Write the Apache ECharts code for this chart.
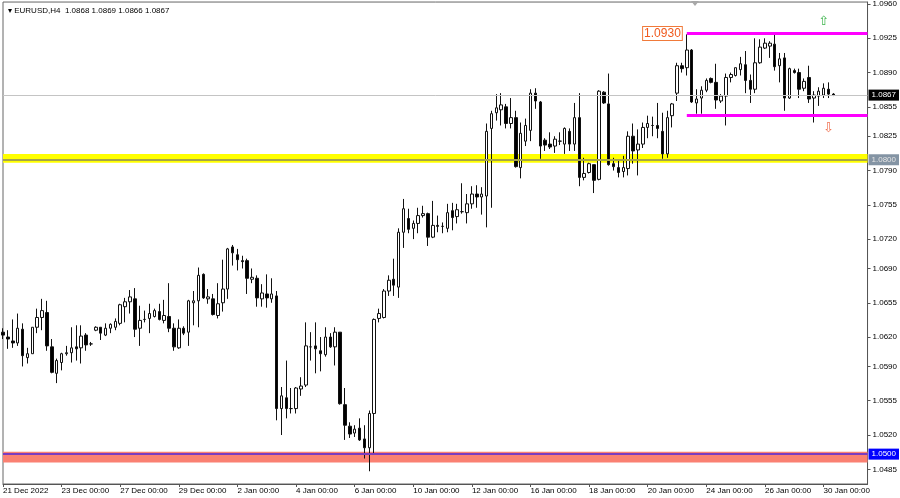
<!DOCTYPE html>
<html>
<head>
<meta charset="utf-8">
<script src="https://cdn.jsdelivr.net/npm/echarts@6/dist/echarts.min.js"></script>
<style>html,body{margin:0;padding:0;background:#fff}#c{width:900px;height:498px}</style>
</head>
<body>
<div id="c"></div>
<script>
// Trading days shown on the H4 chart (6 bars per day)
const tradingDays = ['21 Dec','22 Dec','23 Dec','26 Dec','27 Dec','28 Dec','29 Dec','30 Dec','2 Jan','3 Jan','4 Jan','5 Jan','6 Jan','9 Jan','10 Jan','11 Jan','12 Jan','13 Jan','16 Jan','17 Jan','18 Jan','19 Jan','20 Jan','23 Jan','24 Jan','25 Jan','26 Jan','27 Jan','30 Jan','31 Jan'];
const barHours = ['00:00','04:00','08:00','12:00','16:00','20:00'];
const slotCount = 178; // bars + empty right shift

const openP = [1.0625,1.0620,1.0616,1.0614,1.0628,1.0599,1.0603,1.0630,1.0640,1.0645,
1.0610,1.0583,1.0594,1.0603,1.0604,1.0610,1.0609,1.0622,1.0613,1.0627,
1.0630,1.0622,1.0629,1.0630,1.0634,1.0651,1.0656,1.0659,1.0629,1.0638,
1.0639,1.0641,1.0646,1.0637,1.0641,1.0629,1.0609,1.0629,1.0625,1.0655,
1.0657,1.0684,1.0659,1.0659,1.0642,1.0655,1.0669,1.0712,1.0704,1.0698,
1.0698,1.0679,1.0680,1.0659,1.0664,1.0659,1.0662,1.0547,1.0558,1.0547,
1.0547,1.0567,1.0571,1.0610,1.0611,1.0606,1.0602,1.0620,1.0610,1.0625,
1.0551,1.0529,1.0522,1.0527,1.0516,1.0507,1.0542,1.0639,1.0640,1.0667,
1.0679,1.0671,1.0727,1.0741,1.0731,1.0736,1.0744,1.0746,1.0722,1.0734,
1.0733,1.0731,1.0749,1.0743,1.0748,1.0747,1.0756,1.0766,1.0763,1.0764,
1.0833,1.0849,1.0852,1.0855,1.0838,1.0844,1.0793,1.0820,1.0831,1.0869,
1.0860,1.0821,1.0817,1.0815,1.0820,1.0817,1.0830,1.0817,1.0844,1.0783,
1.0788,1.0796,1.0781,1.0870,1.0858,1.0797,1.0793,1.0789,1.0792,1.0825,
1.0811,1.0817,1.0834,1.0836,1.0836,1.0830,1.0807,1.0846,1.0869,1.0897,
1.0895,1.0913,1.0859,1.0864,1.0872,1.0884,1.0880,1.0861,1.0866,1.0885,
1.0887,1.0893,1.0898,1.0882,1.0873,1.0900,1.0915,1.0917,1.0919,1.0897,
1.0905,1.0864,1.0892,1.0890,1.0874,1.0885,1.0864,1.0866,1.0867,1.0873,
1.0868];
const closeP = [1.0622,1.0618,1.0614,1.0629,1.0601,1.0603,1.0630,1.0640,1.0647,1.0611,
1.0584,1.0596,1.0603,1.0604,1.0609,1.0608,1.0621,1.0612,1.0613,1.0630,
1.0624,1.0629,1.0633,1.0636,1.0653,1.0656,1.0661,1.0628,1.0637,1.0638,
1.0644,1.0647,1.0638,1.0642,1.0629,1.0610,1.0629,1.0624,1.0657,1.0657,
1.0683,1.0660,1.0661,1.0643,1.0654,1.0669,1.0710,1.0706,1.0699,1.0697,
1.0680,1.0681,1.0660,1.0665,1.0660,1.0664,1.0547,1.0560,1.0547,1.0547,
1.0568,1.0570,1.0611,1.0610,1.0608,1.0603,1.0620,1.0610,1.0625,1.0552,
1.0530,1.0521,1.0526,1.0515,1.0507,1.0542,1.0638,1.0644,1.0667,1.0678,
1.0673,1.0727,1.0751,1.0730,1.0736,1.0744,1.0746,1.0722,1.0734,1.0733,
1.0733,1.0747,1.0742,1.0750,1.0748,1.0756,1.0766,1.0763,1.0766,1.0830,
1.0848,1.0854,1.0857,1.0838,1.0844,1.0794,1.0828,1.0836,1.0869,1.0861,
1.0815,1.0816,1.0814,1.0822,1.0820,1.0833,1.0817,1.0844,1.0783,1.0787,
1.0797,1.0780,1.0871,1.0859,1.0796,1.0794,1.0788,1.0793,1.0825,1.0810,
1.0817,1.0834,1.0838,1.0836,1.0833,1.0807,1.0844,1.0858,1.0897,1.0894,
1.0913,1.0860,1.0863,1.0872,1.0882,1.0880,1.0862,1.0866,1.0885,1.0888,
1.0895,1.0899,1.0882,1.0873,1.0900,1.0916,1.0920,1.0920,1.0896,1.0904,
1.0864,1.0894,1.0890,1.0873,1.0881,1.0863,1.0867,1.0871,1.0874,1.0868,
1.0867];
const lowP = [1.0618,1.0608,1.0609,1.0611,1.0590,1.0593,1.0603,1.0624,1.0627,1.0606,
1.0583,1.0573,1.0586,1.0601,1.0594,1.0596,1.0593,1.0606,1.0611,1.0626,
1.0617,1.0621,1.0624,1.0627,1.0632,1.0635,1.0644,1.0620,1.0611,1.0635,
1.0624,1.0640,1.0637,1.0634,1.0625,1.0606,1.0608,1.0622,1.0611,1.0632,
1.0630,1.0659,1.0654,1.0642,1.0639,1.0646,1.0659,1.0693,1.0688,1.0690,
1.0664,1.0675,1.0651,1.0651,1.0650,1.0655,1.0535,1.0520,1.0537,1.0542,
1.0542,1.0560,1.0569,1.0596,1.0583,1.0585,1.0600,1.0609,1.0591,1.0551,
1.0515,1.0517,1.0518,1.0514,1.0496,1.0483,1.0501,1.0635,1.0639,1.0662,
1.0662,1.0660,1.0711,1.0726,1.0720,1.0726,1.0742,1.0713,1.0721,1.0727,
1.0726,1.0727,1.0729,1.0736,1.0746,1.0736,1.0751,1.0752,1.0745,1.0732,
1.0752,1.0841,1.0836,1.0833,1.0833,1.0793,1.0782,1.0815,1.0820,1.0853,
1.0802,1.0810,1.0812,1.0808,1.0816,1.0807,1.0810,1.0810,1.0774,1.0780,
1.0787,1.0767,1.0780,1.0858,1.0795,1.0790,1.0783,1.0783,1.0785,1.0797,
1.0785,1.0813,1.0823,1.0825,1.0823,1.0802,1.0803,1.0834,1.0861,1.0890,
1.0887,1.0859,1.0848,1.0848,1.0870,1.0879,1.0853,1.0859,1.0836,1.0880,
1.0886,1.0887,1.0869,1.0859,1.0869,1.0899,1.0914,1.0905,1.0892,1.0880,
1.0851,1.0863,1.0889,1.0864,1.0871,1.0859,1.0839,1.0856,1.0864,1.0864,
1.0866];
const highP = [1.0629,1.0627,1.0638,1.0644,1.0634,1.0609,1.0630,1.0649,1.0659,1.0657,
1.0618,1.0598,1.0604,1.0611,1.0630,1.0632,1.0632,1.0624,1.0615,1.0631,
1.0630,1.0634,1.0634,1.0639,1.0654,1.0660,1.0668,1.0670,1.0652,1.0647,
1.0654,1.0649,1.0654,1.0658,1.0675,1.0634,1.0638,1.0631,1.0658,1.0667,
1.0691,1.0685,1.0669,1.0664,1.0675,1.0699,1.0711,1.0714,1.0710,1.0703,
1.0700,1.0690,1.0683,1.0674,1.0684,1.0680,1.0667,1.0569,1.0596,1.0568,
1.0569,1.0579,1.0635,1.0625,1.0635,1.0620,1.0630,1.0624,1.0630,1.0625,
1.0568,1.0533,1.0530,1.0537,1.0530,1.0545,1.0639,1.0649,1.0669,1.0683,
1.0700,1.0731,1.0761,1.0751,1.0739,1.0752,1.0754,1.0747,1.0759,1.0744,
1.0737,1.0756,1.0757,1.0756,1.0777,1.0766,1.0774,1.0775,1.0773,1.0838,
1.0851,1.0868,1.0869,1.0858,1.0864,1.0851,1.0839,1.0843,1.0873,1.0874,
1.0861,1.0823,1.0829,1.0825,1.0829,1.0834,1.0833,1.0859,1.0869,1.0803,
1.0798,1.0796,1.0872,1.0871,1.0889,1.0803,1.0800,1.0805,1.0830,1.0838,
1.0832,1.0839,1.0846,1.0845,1.0859,1.0849,1.0851,1.0859,1.0900,1.0900,
1.0929,1.0914,1.0873,1.0876,1.0884,1.0885,1.0899,1.0868,1.0889,1.0890,
1.0895,1.0906,1.0912,1.0888,1.0925,1.0924,1.0925,1.0922,1.0930,1.0910,
1.0910,1.0895,1.0894,1.0894,1.0884,1.0897,1.0871,1.0875,1.0879,1.0880,
1.0869];

const priceTicks = [1.0485,1.0520,1.0555,1.0590,1.0620,1.0655,1.0690,1.0720,1.0755,1.0790,1.0825,1.0855,1.0890,1.0925,1.0960];
const channelTop = 1.0930, channelBottom = 1.0846, channelStartBar = 140;
const supportLevel = 1.0500, pivotLevel = 1.0800, lastPrice = 1.0867;
const yellowZone = [1.0798, 1.0807];
const salmonZone = [1.0492, 1.0503];
const upArrowAt = [168, 1.0942], downArrowAt = [169, 1.0833];

const categories = [];
for (const d of tradingDays) for (const h of barHours) if (categories.length < slotCount) categories.push(d + ' ' + h);
const candles = openP.map((o, i) => [o, closeP[i], lowP[i], highP[i]]);

const FONT = 'Liberation Sans';
const chart = echarts.init(document.getElementById('c'), null, {renderer: 'canvas'});
chart.setOption({
  animation: false,
  backgroundColor: '#ffffff',
  title: {
    text: '\u25BE EURUSD,H4  1.0868 1.0869 1.0866 1.0867',
    left: 3, top: 2,
    textStyle: {fontSize: 8, fontWeight: 'normal', color: '#000', fontFamily: FONT}
  },
  grid: {left: 2, right: 31, top: 1, bottom: 14, show: true, borderColor: '#666', borderWidth: 1, backgroundColor: '#fff'},
  xAxis: {
    type: 'category', data: categories, boundaryGap: false,
    axisLine: {lineStyle: {color: '#555'}},
    axisTick: {interval: 11, length: 3, lineStyle: {color: '#555'}},
    axisLabel: {
      interval: 11, align: 'left', margin: 3, fontSize: 8, color: '#000', fontFamily: FONT,
      formatter: (v, i) => i === 0 ? '21 Dec 2022' : v
    },
    splitLine: {show: false}
  },
  yAxis: {
    type: 'value', position: 'right', min: 1.0470, max: 1.0962, scale: true,
    axisLine: {show: true, lineStyle: {color: '#555'}},
    axisTick: {show: true, length: 3, customValues: priceTicks, lineStyle: {color: '#555'}},
    axisLabel: {customValues: priceTicks, margin: 5, fontSize: 8, color: '#000', fontFamily: FONT,
      formatter: v => v.toFixed(4)},
    splitLine: {show: false}
  },
  series: [
    {
      type: 'line', data: [], z: 1, silent: true,
      markArea: {
        silent: true,
        data: [
          [{yAxis: yellowZone[1], itemStyle: {color: '#ffff00'}}, {yAxis: yellowZone[0]}],
          [{yAxis: salmonZone[1], itemStyle: {color: '#fa8072'}}, {yAxis: salmonZone[0]}]
        ]
      }
    },
    {
      type: 'candlestick', data: candles, z: 2, barWidth: 3,
      itemStyle: {color: '#ffffff', color0: '#000000', borderColor: '#111', borderColor0: '#111', borderWidth: 1}
    },
    {
      type: 'line', data: [], z: 3, silent: true,
      markLine: {
        silent: true, symbol: ['none', 'none'], precision: 6,
        data: [
          {yAxis: lastPrice, lineStyle: {color: '#c4c4c4', width: 1, type: 'solid'},
            label: {show: true, position: 'end', distance: 1, formatter: lastPrice.toFixed(4), backgroundColor: '#000', color: '#fff', padding: [2, 3, 1, 3], fontSize: 8, fontFamily: FONT}},
          {yAxis: pivotLevel + 0.0001, lineStyle: {color: '#a4a44a', width: 2, type: 'solid'},
            label: {show: true, position: 'end', distance: 1, formatter: pivotLevel.toFixed(4), backgroundColor: '#8494a4', color: '#e4e4e4', padding: [2, 3, 1, 3], fontSize: 8, fontFamily: FONT}},
          {yAxis: supportLevel + 0.00005, lineStyle: {color: '#7a3cc0', width: 2, type: 'solid'},
            label: {show: true, position: 'end', distance: 1, formatter: supportLevel.toFixed(4), backgroundColor: '#0000ff', color: '#fff', padding: [2, 3, 1, 3], fontSize: 8, fontFamily: FONT}},
          [{coord: [categories[channelStartBar], channelTop], lineStyle: {color: '#ff00ff', width: 3, type: 'solid'},
            label: {show: true, position: 'start', distance: 5, formatter: channelTop.toFixed(4), color: '#f05a1e', backgroundColor: '#fff', borderColor: '#f07a3a', borderWidth: 1, padding: [1, 1, 0, 1], fontSize: 12, fontFamily: FONT}},
           {coord: [categories[slotCount - 1], channelTop]}],
          [{coord: [categories[channelStartBar], channelBottom], lineStyle: {color: '#ff00ff', width: 3, type: 'solid'}, label: {show: false}},
           {coord: [categories[slotCount - 1], channelBottom]}]
        ]
      },
      markPoint: {
        silent: true, symbol: 'circle', symbolSize: 1, itemStyle: {color: 'rgba(0,0,0,0)'},
        data: [
          {coord: [categories[upArrowAt[0]], upArrowAt[1]], label: {show: true, position: 'inside', formatter: '\u21E7', color: '#3cb44b', fontSize: 13, fontFamily: 'DejaVu Sans'}},
          {coord: [categories[downArrowAt[0]], downArrowAt[1]], label: {show: true, position: 'inside', formatter: '\u21E9', color: '#f07050', fontSize: 13, fontFamily: 'DejaVu Sans'}}
        ]
      }
    }
  ],
  graphic: [
    {type: 'polygon', shape: {points: [[691, 1], [699, 1], [695, 6]]}, style: {fill: '#a8a8a8'}, z: 10}
  ]
});
</script>
</body>
</html>
